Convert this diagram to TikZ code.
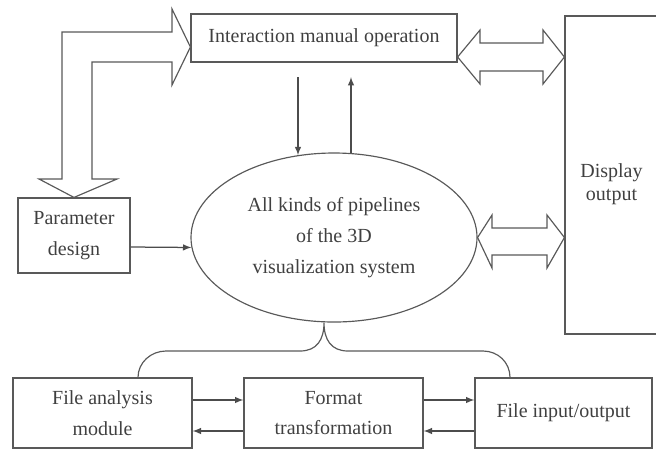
\documentclass[tikz,border=0pt]{standalone}
\usepackage{fontspec}
\setmainfont{Liberation Serif}
\usetikzlibrary{arrows,calc,shapes.geometric}
\tikzstyle{block} = [draw=black!65, line width=0.7pt, text=black!75, align=center, inner sep=0pt, font=\fontsize{12}{18.5}\selectfont]
\tikzstyle{arr} = [draw=black!70, line width=0.75pt, -latex]
\tikzstyle{line} = [draw=black!65, line width=0.7pt]
\tikzstyle{hollow} = [draw=black!65, line width=0.7pt, fill=white, line join=miter]

\begin{document}
\begin{tikzpicture}[x=0.6pt,y=-0.6pt]
	\useasboundingbox (0,0) rectangle (656,449);

	% main blocks
	\node[block, minimum width=159.6pt, minimum height=28.8pt] (inter) at (324,38) {Interaction manual operation};
	\node[block, minimum width=55.8pt, minimum height=190.8pt,
		label={[align=center, text=black!75, font=\fontsize{12}{13.5}\selectfont, yshift=-5.4pt]center:Display\\output}] (disp) at (611.5,175) {};
	\node[block, minimum width=67.2pt, minimum height=45pt] (param) at (74,235.5) {Parameter\\design};
	\node[block, ellipse, minimum width=171.6pt, minimum height=101.4pt] (pipe) at (334,237.5) {All kinds of pipelines\\of the 3D\\visualization system};

	\node[block, minimum width=107.4pt, minimum height=42pt] (fam) at (102.5,413) {File analysis\\module};
	\node[block, minimum width=107.4pt, minimum height=42pt] (fmt) at (333.5,413) {Format\\transformation};
	\node[block, minimum width=106.2pt, minimum height=42pt] (fio) at (563.5,413) {File input/output};

	% hollow arrows
	\draw[hollow] (62,179) -- (62,32) -- (172,32) -- (172,9) -- (inter.west |- 0,47) -- (172,85) -- (172,62)
		-- (92,62) -- (92,179) -- (117,179) -- (param.north) -- (39,179) -- cycle;
	\draw[hollow] (inter.east |- 0,57) -- (480,30) -- (480,43) -- (543,43) -- (543,30) -- (disp.west |- 0,57)
		-- (543,84) -- (543,71) -- (480,71) -- (480,84) -- cycle;
	\draw[hollow] (pipe.east) -- (492,215) -- (492,228) -- (547,228) -- (547,215) -- (disp.west |- pipe.east)
		-- (547,268) -- (547,255) -- (492,255) -- (492,268) -- cycle;

	% thin arrows
	\coordinate (dn) at (298,77);
	\coordinate (up) at (351,77);
	\draw[arr] (dn) -- (dn |- pipe.114);
	\draw[arr] (up |- pipe.78) -- (up);
	\draw[arr] ([yshift=-6.9pt]param.east) -- (pipe.184);

	\draw[arr] ([yshift=7.8pt]fam.east) -- ([yshift=7.8pt]fmt.west);
	\draw[arr] ([yshift=-10.8pt]fmt.west) -- ([yshift=-10.8pt]fam.east);
	\draw[arr] ([yshift=7.8pt]fmt.east) -- ([yshift=7.8pt]fio.west);
	\draw[arr] ([yshift=-10.8pt]fio.east -| fio.west) -- ([yshift=-10.8pt]fmt.east);

	% brace under the ellipse
	\coordinate (cusp) at ($(pipe.south)+(-10,0)$);
	\draw[line] ($(fam.north)+(35.5,0)$) .. controls +(0,-15) and +(-15,0) .. (166,351) -- (300,351)
		.. controls +(17,0) and +(0,17) .. (cusp)
		.. controls +(0,17) and +(-17,0) .. (348,351) -- (483,351)
		.. controls +(15,0) and +(0,-15) .. ($(fio.north)+(-53.5,0)$);

\end{tikzpicture}
\end{document}
